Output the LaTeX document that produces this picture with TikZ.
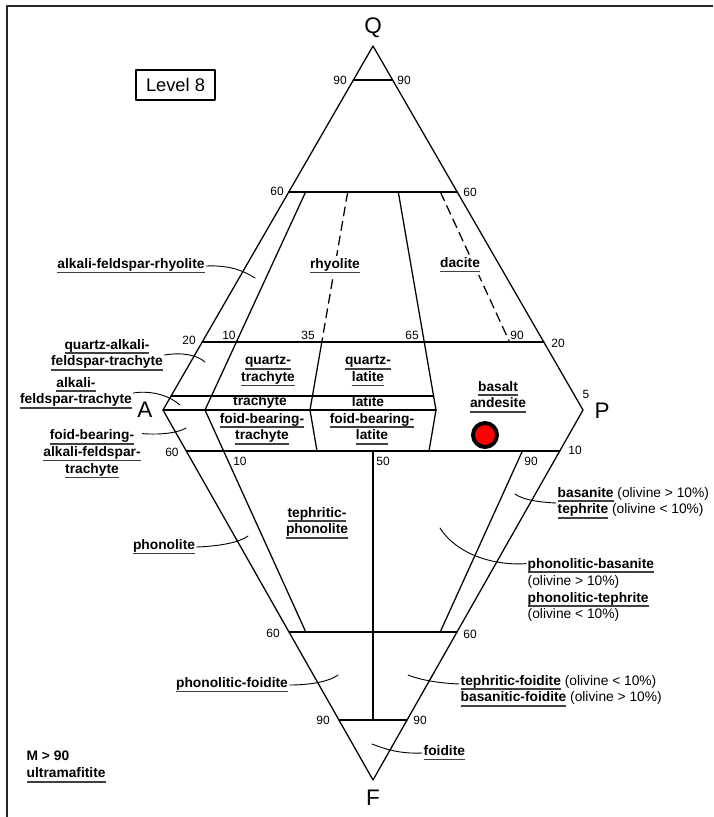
\documentclass[tikz,border=0pt]{standalone}
\usepackage{fontspec}
\setmainfont{Liberation Sans}
\newcommand{\ulab}[1]{\setbox0\hbox{#1}\leavevmode\rlap{\color{black!75}\vrule height -2.3pt depth 3.5pt width \wd0}\box0\relax}
\begin{document}
\begin{tikzpicture}[x=0.025cm,y=-0.025cm,line cap=round,line join=round,
  bound/.style={line width=0.9pt},
  dashbound/.style={line width=0.9pt,line cap=butt,dash pattern=on 7pt off 3.5pt},
  lead/.style={line width=0.65pt},
  lab/.style={font=\fontsize{9.8}{12}\selectfont\bfseries,inner sep=1pt,align=center},
  tick/.style={font=\fontsize{8.5}{9}\selectfont,inner sep=0pt},
  vtx/.style={font=\fontsize{16}{18}\selectfont,inner sep=0pt}]
\useasboundingbox (0,0) rectangle (713,817);
\draw[line width=1.8pt,black!85,line cap=butt] (713,6) -- (7,6) -- (7,817);
\node[draw,line width=0.9pt,font=\fontsize{13}{15}\selectfont,minimum width=1.975cm,minimum height=0.75cm] (lvl) at (175.5,85) {Level 8};

% corners
\coordinate (Q) at (373,46);
\coordinate (A) at (163,410);
\coordinate (P) at (583,410);
\coordinate (F) at (373,780);
\draw[bound] (Q) -- (A) -- (F) -- (P) -- cycle;
\node[vtx] (lQ) at (373,28) {Q};
\node[vtx] (lA) at (145,410) {A};
\node[vtx] (lP) at (602,411) {P};
\node[vtx] (lF) at (373,798) {F};

% horizontal lines
\draw[bound] (353.4,80) -- (392.6,80);
\draw[bound] (288.8,192) -- (457.2,192);
\draw[bound] (202.2,342) -- (543.8,342);
\draw[bound] (171.1,396) -- (433.6,396);
\draw[bound] (A) -- (436,410);
\draw[bound] (186.3,451) -- (559.7,451);
\draw[bound] (289,632) -- (457,632);
\draw[bound] (339,720) -- (407,720);

% radial lines
\draw[bound] (305.6,192) -- (205,410) -- (305.8,632);
\draw[dashbound] (347.7,192) -- (321.8,342);
\draw[bound] (321.8,342) -- (310,410) -- (317,451);
\draw[bound] (398.3,192) -- (436,410) -- (429,451);
\draw[dashbound] (440.4,192) -- (509.6,342);
\draw[bound] (373,451) -- (373,720);
\draw[bound] (522.4,451) -- (440.2,632);

\foreach \x/\y/\t [count=\i] in {340/80/90,404/80/90,277/191/60,470/192/60,
  189/340/20,229/335/10,308/335/35,412/335/65,517/335/90,558/343/20,586/394/5,
  172/452/60,240/461/10,383/461/50,531/461/90,575/450/10,
  273/633/60,470/634/60,323/720/90,420/720/90}
{
\node[tick] (tk\i) at (\x,\y) {\t};
}

% fields
\node[lab,fill=white,inner sep=2pt] (lrh) at (335,266) {\ulab{rhyolite}};
\node[lab,fill=white,inner sep=2pt] (ldac) at (460,265) {\ulab{dacite}};
\node[lab] (lqtr) at (268,371) {\ulab{quartz-}\\\ulab{trachyte}};
\node[lab] (lqla) at (368,371) {\ulab{quartz-}\\\ulab{latite}};
\node[lab] (ltr) at (260,402) {trachyte};
\node[lab] (lla) at (368,402) {latite};
\node[lab] (lfbt) at (262,429) {\ulab{foid-bearing-}\\\ulab{trachyte}};
\node[lab] (lfbl) at (372,429) {\ulab{foid-bearing-}\\\ulab{latite}};
\node[lab] (lba) at (498,397) {\ulab{basalt}\\\ulab{andesite}};
\node[lab] (ltph) at (317,523) {\ulab{tephritic-}\\\ulab{phonolite}};
\node[circle,fill=red,draw=black,line width=2.8pt,minimum size=0.6cm,inner sep=0pt] (dot) at (485,435) {};

% outside labels
\node[lab] (lafr) at (131,266) {\ulab{alkali-feldspar-rhyolite}};
\node[lab] (lqaft) at (107,355) {\ulab{quartz-alkali-}\\\ulab{feldspar-trachyte}};
\node[lab] (lafst) at (76,393) {\ulab{alkali-}\\\ulab{feldspar-trachyte}};
\node[lab] (lfaft) at (92,454) {\ulab{foid-bearing-}\\\ulab{alkali-feldspar-}\\\ulab{trachyte}};
\node[lab] (lphon) at (164,547) {\ulab{phonolite}};
\node[lab] (lpfoi) at (232,685) {\ulab{phonolitic-foidite}};
\node[lab,align=left,anchor=west] (lmaf) at (25,767) {M > 90\\\ulab{ultramafitite}};
\node[lab,align=left,anchor=west] (lbas) at (556,503) {\ulab{basanite} {\mdseries(olivine > 10\%)}\\\ulab{tephrite} {\mdseries(olivine < 10\%)}};
\node[lab,align=left,anchor=west] (lphb) at (526,590) {\ulab{phonolitic-basanite}\\{\mdseries(olivine > 10\%)}\\\ulab{phonolitic-tephrite}\\{\mdseries(olivine < 10\%)}};
\node[lab,align=left,anchor=west] (ltfo) at (459,691) {\ulab{tephritic-foidite} {\mdseries(olivine < 10\%)}\\\ulab{basanitic-foidite} {\mdseries(olivine > 10\%)}};
\node[lab,anchor=west] (lfoi) at (422,753) {\ulab{foidite}};

% leaders
\coordinate (eafr) at (255,278);
\coordinate (eqaft) at (205,362);
\coordinate (eafst) at (180,405);
\coordinate (efaft) at (186,428);
\coordinate (ephon) at (248,536);
\coordinate (epfoi) at (338,675);
\coordinate (ebas) at (515,494);
\coordinate (ephb) at (440,528);
\coordinate (etfo) at (408,675);
\coordinate (efoi) at (372,744);
\draw[lead] (lafr.east) .. controls (230,265) and (244,271) .. (eafr);
\draw[lead] (lqaft.east) .. controls (182,352) and (197,355) .. (eqaft);
\draw[lead] (lafst.east) .. controls (152,390) and (170,396) .. (eafst);
\draw[lead] ([yshift=-4pt]lfaft.north east) .. controls (160,435) and (178,433) .. (efaft);
\draw[lead] (lphon.east) .. controls (222,546) and (240,542) .. (ephon);
\draw[lead] (lpfoi.east) .. controls (312,685) and (330,681) .. (epfoi);
\draw[lead] (lbas.west) .. controls (535,502) and (522,499) .. (ebas);
\draw[lead] ([yshift=-5pt]lphb.north west) .. controls (490,566) and (455,552) .. (ephb);
\draw[lead] ([yshift=5pt]ltfo.west) .. controls (435,683) and (418,679) .. (etfo);
\draw[lead] (lfoi.west) .. controls (400,754) and (385,749) .. (efoi);
\end{tikzpicture}
\end{document}
